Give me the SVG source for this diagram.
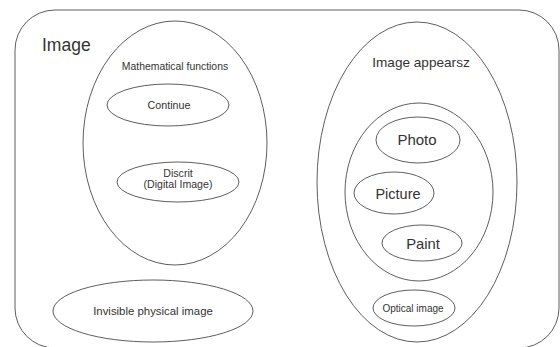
<svg xmlns="http://www.w3.org/2000/svg" width="560" height="347" viewBox="0 0 560 347">
<style>
.s{fill:none;stroke:#5e5e5e;stroke-width:1}
text{font-family:"Liberation Sans",Arial,sans-serif;fill:#333;text-anchor:middle}
</style>
<rect width="560" height="347" fill="#fff"/>
<g id="image">
<rect class="s" x="15" y="10" width="544" height="338" rx="40" ry="40"/>
<text x="42" y="51" font-size="17.5" style="text-anchor:start">Image</text>
</g>
<g id="math">
<ellipse class="s" cx="175" cy="143" rx="92" ry="122"/>
<text x="175" y="70" font-size="10.4">Mathematical functions</text>
</g>
<g id="continue">
<ellipse class="s" cx="168" cy="105" rx="61" ry="21"/>
<text x="169" y="109" font-size="10.7">Continue</text>
</g>
<g id="discrit">
<ellipse class="s" cx="178" cy="182" rx="61" ry="20"/>
<text x="178" y="177" font-size="10.6">Discrit</text>
<text x="178" y="188" font-size="10.6">(Digital Image)</text>
</g>
<g id="invisible">
<ellipse class="s" cx="153" cy="311" rx="100" ry="31"/>
<text x="153" y="315" font-size="11.4">Invisible physical image</text>
</g>
<g id="appears">
<ellipse class="s" cx="417" cy="182" rx="100" ry="160"/>
<text x="421" y="67" font-size="13.6">Image appearsz</text>
</g>
<g id="group">
<ellipse class="s" cx="419" cy="192" rx="74" ry="89"/>
</g>
<g id="photo">
<ellipse class="s" cx="418" cy="140" rx="42" ry="23"/>
<text x="417" y="145" font-size="15">Photo</text>
</g>
<g id="picture">
<ellipse class="s" cx="394" cy="193" rx="40" ry="21"/>
<text x="398" y="199" font-size="14.5">Picture</text>
</g>
<g id="paint">
<ellipse class="s" cx="422" cy="243" rx="40" ry="18"/>
<text x="423" y="249" font-size="14.8">Paint</text>
</g>
<g id="optical">
<ellipse class="s" cx="414" cy="308" rx="41" ry="18"/>
<text x="413" y="312" font-size="10">Optical image</text>
</g>
<g id="connectors"/>
</svg>
